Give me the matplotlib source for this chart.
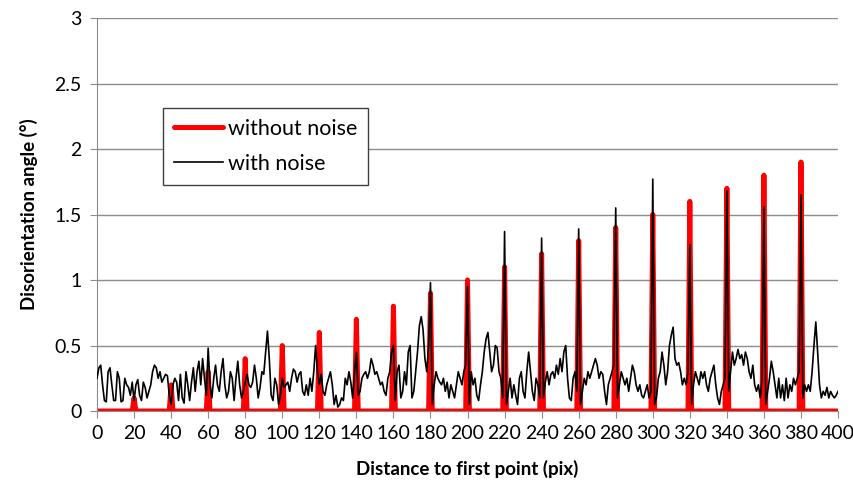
import numpy as np
import matplotlib.pyplot as plt

plt.rcParams["font.family"] = ["Lato", "DejaVu Sans"]

# distance to first point (pix), one sample per pixel
distance = np.arange(0, 401)

# disorientation without noise: zero except at every 20th pixel
peak_positions = np.arange(20, 400, 20)
peak_angles = [0.1, 0.2, 0.3, 0.4, 0.5, 0.6, 0.7, 0.8, 0.9, 1.0,
               1.1, 1.2, 1.3, 1.4, 1.5, 1.6, 1.7, 1.8, 1.9]

# disorientation with noise (rows of 20 pixels)
noisy_angles = [
    0.25, 0.33, 0.35, 0.2, 0.08, 0.07, 0.3, 0.33, 0.2, 0.08, 0.08, 0.3, 0.25, 0.07, 0.08, 0.25, 0.2, 0.18, 0.12, 0.22,
    0.08, 0.2, 0.24, 0.12, 0.08, 0.22, 0.18, 0.1, 0.15, 0.2, 0.3, 0.35, 0.33, 0.25, 0.3, 0.22, 0.25, 0.28, 0.27, 0.12,
    0.05, 0.2, 0.25, 0.22, 0.08, 0.28, 0.1, 0.06, 0.3, 0.2, 0.08, 0.22, 0.33, 0.15, 0.3, 0.38, 0.2, 0.4, 0.25, 0.12,
    0.48, 0.2, 0.1, 0.25, 0.35, 0.2, 0.15, 0.3, 0.4, 0.2, 0.1, 0.15, 0.3, 0.25, 0.08, 0.25, 0.38, 0.2, 0.1, 0.15,
    0.22, 0.28, 0.2, 0.18, 0.22, 0.35, 0.25, 0.1, 0.18, 0.3, 0.28, 0.45, 0.61, 0.4, 0.12, 0.08, 0.25, 0.2, 0.05, 0.12,
    0.25, 0.18, 0.2, 0.22, 0.15, 0.25, 0.32, 0.3, 0.22, 0.28, 0.3, 0.15, 0.12, 0.2, 0.12, 0.25, 0.15, 0.3, 0.5, 0.3,
    0.2, 0.28, 0.15, 0.12, 0.2, 0.25, 0.3, 0.2, 0.05, 0.12, 0.03, 0.05, 0.1, 0.08, 0.25, 0.2, 0.3, 0.22, 0.1, 0.3,
    0.45, 0.12, 0.15, 0.25, 0.28, 0.3, 0.25, 0.3, 0.4, 0.35, 0.28, 0.3, 0.25, 0.2, 0.22, 0.15, 0.12, 0.25, 0.3, 0.45,
    0.5, 0.08, 0.3, 0.35, 0.1, 0.15, 0.3, 0.2, 0.45, 0.5, 0.1, 0.15, 0.3, 0.45, 0.65, 0.72, 0.62, 0.4, 0.3, 0.5,
    0.98, 0.05, 0.2, 0.3, 0.25, 0.22, 0.2, 0.25, 0.15, 0.22, 0.1, 0.2, 0.15, 0.1, 0.2, 0.3, 0.25, 0.2, 0.3, 0.35,
    0.95, 0.05, 0.3, 0.2, 0.25, 0.12, 0.08, 0.2, 0.3, 0.45, 0.55, 0.6, 0.45, 0.3, 0.35, 0.5, 0.48, 0.3, 0.25, 0.1,
    1.37, 0.05, 0.15, 0.25, 0.1, 0.2, 0.12, 0.05, 0.25, 0.3, 0.15, 0.1, 0.3, 0.45, 0.3, 0.15, 0.08, 0.25, 0.2, 0.1,
    1.32, 0.1, 0.22, 0.3, 0.2, 0.28, 0.3, 0.25, 0.35, 0.28, 0.4, 0.3, 0.45, 0.5, 0.25, 0.1, 0.08, 0.25, 0.3, 0.15,
    1.39, 0.05, 0.15, 0.25, 0.2, 0.3, 0.25, 0.3, 0.35, 0.4, 0.35, 0.25, 0.3, 0.28, 0.15, 0.05, 0.2, 0.25, 0.3, 0.35,
    1.55, 0.1, 0.2, 0.3, 0.25, 0.2, 0.25, 0.15, 0.25, 0.35, 0.3, 0.2, 0.15, 0.2, 0.12, 0.1, 0.15, 0.2, 0.1, 0.15,
    1.77, 0.05, 0.1, 0.25, 0.3, 0.45, 0.35, 0.2, 0.3, 0.5, 0.58, 0.64, 0.4, 0.35, 0.37, 0.3, 0.2, 0.25, 0.2, 0.3,
    1.27, 0.05, 0.2, 0.3, 0.25, 0.2, 0.3, 0.25, 0.3, 0.2, 0.15, 0.25, 0.3, 0.35, 0.2, 0.1, 0.05, 0.15, 0.2, 0.25,
    1.68, 0.15, 0.3, 0.45, 0.35, 0.4, 0.47, 0.4, 0.43, 0.35, 0.45, 0.4, 0.3, 0.25, 0.35, 0.2, 0.15, 0.2, 0.1, 0.25,
    1.56, 0.05, 0.15, 0.25, 0.38, 0.3, 0.2, 0.1, 0.25, 0.1, 0.2, 0.08, 0.25, 0.1, 0.2, 0.15, 0.25, 0.2, 0.25, 0.3,
    1.65, 0.1, 0.2, 0.15, 0.2, 0.15, 0.3, 0.5, 0.68, 0.45, 0.2, 0.1, 0.15, 0.12, 0.18, 0.1, 0.15, 0.12, 0.1, 0.12,
    0.15,
]

clean_angles = np.zeros(len(distance))
clean_angles[peak_positions] = peak_angles

fig = plt.figure(figsize=(8.54, 4.92), dpi=100)
ax = fig.add_axes([0.1136, 0.1646, 0.8677, 0.7988])

ax.plot(distance, clean_angles, color="#ff0000", linewidth=3.6,
        solid_joinstyle="round", solid_capstyle="round",
        label="without noise", zorder=2)
ax.plot(distance, noisy_angles, color="black", linewidth=1.2,
        label="with noise", zorder=3)

ax.set_xlim(0, 400)
ax.set_ylim(0, 3)
ax.set_xticks(np.arange(0, 401, 20))
ax.set_yticks(np.arange(0, 3.01, 0.5))
ax.set_yticklabels(["0", "0.5", "1", "1.5", "2", "2.5", "3"])
ax.grid(axis="y", color="#8c8c8c", linewidth=1)
ax.set_axisbelow(True)

for side in ["top", "right"]:
    ax.spines[side].set_visible(False)
for side in ["left", "bottom"]:
    ax.spines[side].set_color("#8c8c8c")
ax.tick_params(axis="both", colors="#8c8c8c", labelcolor="black",
               labelsize=14, length=5, direction="out")
ax.tick_params(axis="x", pad=5)
ax.tick_params(axis="y", pad=6)

ax.set_xlabel("Distance to first point (pix)", fontsize=13.5,
              fontweight="bold", labelpad=13)
ax.set_ylabel("Disorientation angle (°)", fontsize=13.5,
              fontweight="bold", labelpad=12)

leg = ax.legend(loc="upper left", bbox_to_anchor=(0.089, 0.771),
                fontsize=15.5, frameon=True, fancybox=False,
                handlelength=2.3, handletextpad=0.2, borderpad=0.5,
                labelspacing=0.7, borderaxespad=0)
leg.get_frame().set_edgecolor("#404040")
leg.get_frame().set_linewidth(1.0)
leg.get_frame().set_alpha(1)

fig.savefig("out.png", dpi=100)
